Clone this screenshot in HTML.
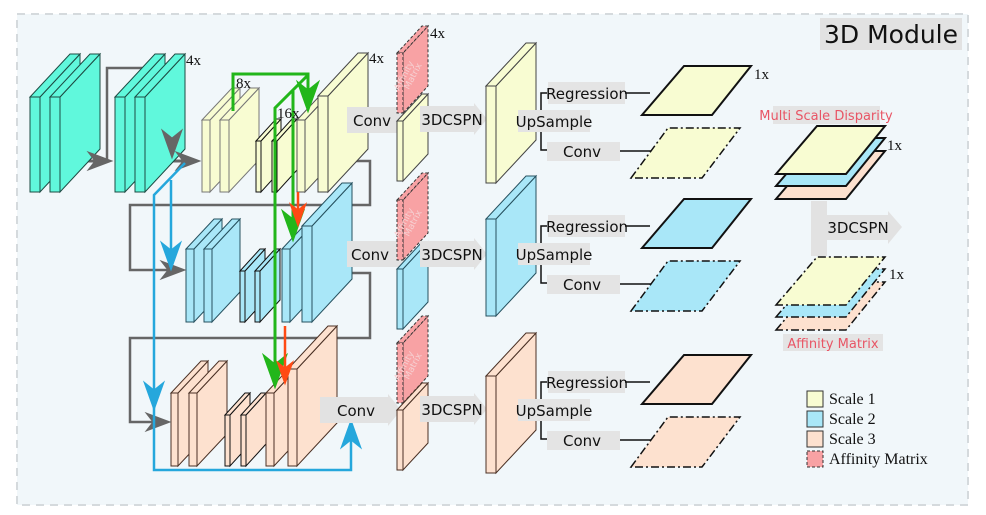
<!DOCTYPE html>
<html><head><meta charset="utf-8"><style>
html,body{margin:0;padding:0;background:#fff;width:986px;height:515px;overflow:hidden}
svg{display:block}
.s{font-family:"DejaVu Sans","Liberation Sans",sans-serif}
.r{font-family:"Liberation Serif",serif}
</style></head><body>
<svg id="sv" width="986" height="515" viewBox="0 0 986 515" xmlns="http://www.w3.org/2000/svg">
<rect x="17" y="14" width="951" height="491" fill="#f1f7fa" stroke="#d5dadd" stroke-width="2" stroke-dasharray="8,6"/>
<rect x="820" y="18" width="142" height="32" fill="#e2e2e2"/>
<text x="891" y="43" class="s" font-size="25" text-anchor="middle" fill="#111">3D Module</text>
<g id="g"></g>
</svg>
<script>
var g=document.getElementById('g'),out='';
function P(pts,f,s,w,d){out+='<polygon points="'+pts.map(p=>p.join(',')).join(' ')+'" fill="'+f+'" stroke="'+s+'" stroke-width="'+(w||1)+'"'+(d?' stroke-dasharray="'+d+'"':'')+' stroke-linejoin="miter"/>';}
function L(pts,c,w,d){out+='<polyline points="'+pts.map(p=>p.join(',')).join(' ')+'" fill="none" stroke="'+c+'" stroke-width="'+(w||2)+'"'+(d?' stroke-dasharray="'+d+'"':'')+'/>';}
function T(x,y,t,sz,cls,anc,col){out+='<text x="'+x+'" y="'+y+'" class="'+cls+'" style="font-size:'+sz+'px" text-anchor="'+(anc||'start')+'" fill="'+(col||'#111')+'">'+t+'</text>';}
function slab(x,y,t,h,dx,fill,st,dash,w){var dy=-Math.round(dx*1.08);
 P([[x+t,y],[x+t+dx,y+dy],[x+t+dx,y+h+dy],[x+t,y+h]],fill,st,w||1,dash);
 P([[x,y],[x+dx,y+dy],[x+t+dx,y+dy],[x+t,y]],fill,st,w||1,dash);
 P([[x,y],[x+t,y],[x+t,y+h],[x,y+h]],fill,st,w||1,dash);}
function ahD(x,ty,c,s){s=s||1;P([[x,ty],[x-10*s,ty-28*s],[x,ty-20*s],[x+10*s,ty-28*s]],c,c,1);}
function ahU(x,ty,c){P([[x,ty],[x-10,ty+28],[x,ty+20],[x+10,ty+28]],c,c,1);}
function ahR(tx,y,c){P([[tx,y],[tx-24,y-9],[tx-17,y],[tx-24,y+9]],c,c,1);}
function barr(x1,x2,y,h,txt,tx){P([[x1,y],[x2,y],[x2,y-3],[x2+13,y+h/2],[x2,y+h+3],[x2,y+h],[x1,y+h]],'#e2e2e2','none',0);
 T(tx||(x1+x2)/2,y+h/2+6,txt,15,'s','middle');}
var GR='#666',GN='#22b61a',RD='#ff4a14',BL='#25a7dc';
var TE='#60f8dc',TS='#1d4b43',Y='#f8fcd2',YS='#444',B='#a9e7f8',BS='#26515f',PC='#fde1cf',PS='#4a3024',PK='#f8a2a4';
L([[80,161],[108,161]],GR,3);L([[107,161],[107,68],[172,68],[172,150]],GR,2.5);
L([[168,161],[195,161]],GR,3);
L([[350,161],[370,161],[370,205],[130,205],[130,270],[180,270]],GR,2.5);
L([[345,273],[370,273],[370,338],[130,338],[130,422],[165,422]],GR,2.5);
slab(30,97,10,95,40,TE,TS);slab(50,97,10,95,40,TE,TS);
slab(115,97,10,95,40,TE,TS);slab(135,97,10,95,40,TE,TS);
ahD(172,158,GR);ahR(112,161,GR);ahR(200,161,GR);
slab(202,120,8,72,30,Y,'#777');slab(220,120,9,72,30,Y,'#777');
slab(256,141,5,51,20,Y,'#111');slab(272,141,5,51,20,Y,'#111');
slab(297,120,8,72,30,Y,'#555');slab(318,96,10,96,40,Y,'#444');
slab(186,249,8,73,28,B,BS);slab(204,249,8,73,28,B,BS);
slab(240,271,5,51,20,B,'#111');slab(255,271,5,51,20,B,'#111');
slab(282,249,8,73,28,B,BS);slab(302,226,10,96,40,B,BS);
slab(171,393,7,73,30,PC,PS);slab(189,393,8,73,30,PC,PS);
slab(225,415,5,51,20,PC,'#111');slab(241,415,5,51,20,PC,'#111');
slab(266,393,8,73,28,PC,PS);slab(288,369,9,97,40,PC,PS);
ahR(185,270,GR);ahR(170,422,GR);
L([[233,111],[233,74],[308,74],[308,100]],GN,3);ahD(308,112,GN,1.1);
L([[308,75],[275,108],[275,375]],GN,3);ahD(275,388,GN,1.2);
L([[293,91],[293,228]],GN,3);ahD(293,241,GN,1.1);
L([[298,192],[298,212]],RD,2.5);ahD(298,226,RD,0.8);
L([[285,326],[285,370]],RD,2.5);ahD(285,384,RD,0.8);
L([[185,163],[154,195],[154,470],[351,470],[351,430]],BL,2.5);ahU(351,420,BL);ahD(154,410,BL);
L([[171,180],[171,258]],BL,2.5);ahD(171,270,BL);
barr(347,398,107,26,'Conv',372);barr(347,398,241,26,'Conv',370);barr(320,388,397,26,'Conv',356);
var rows=[[53,121,Y,YS],[200,269,B,BS],[343,410,PC,PS]];
rows.forEach(function(r,i){slab(397,r[0],6,60,25,PK,'#333','3,2');
 out+='<text transform="translate(414,'+(r[0]+10)+') rotate(-62)" class="s" style="font-size:9px" fill="#f6d0d2" text-anchor="end">Affinity</text>';
 out+='<text transform="translate(422,'+(r[0]+12)+') rotate(-62)" class="s" style="font-size:9px" fill="#f6d0d2" text-anchor="end">Matrix</text>';
 slab(397,r[1],6,60,25,r[2],r[3]);});
T(430,38,'4x',15,'r');T(186,65,'4x',15,'r');T(369,63,'4x',15,'r');T(236,88,'8x',15,'r');T(277,118,'16x',15,'r');
[106,241,396].forEach(function(y){barr(420,474,y,26,'3DCSPN',452);});
var up=[[86,0,Y,YS],[219,133,B,BS],[376,289,PC,PS]];
up.forEach(function(u){var o=u[1];slab(486,u[0],10,97,40,u[2],u[3]);
 L([[547,93+o],[541,93+o],[541,150+o],[547,150+o]],'#111',1.5);
 out+='<rect x="518" y="'+(110+o)+'" width="72" height="22" fill="#e4e4e4"/>';T(554,127+o,'UpSample',15,'s','middle');
 out+='<rect x="548" y="'+(82+o)+'" width="77" height="22" fill="#e4e4e4"/>';T(587,99+o,'Regression',15,'s','middle');
 out+='<rect x="547" y="'+(142+o)+'" width="73" height="19" fill="#e4e4e4"/>';T(582,157+o,'Conv',15,'s','middle');
 L([[625,93+o],[650,93+o]],'#111',1.5);L([[620,151+o],[657,151+o]],'#111',1.5);
 P([[642,115+o],[684,66+o],[751,66+o],[712,115+o]],u[2],'#111',2);
 P([[631,178+o],[668,128+o],[740,128+o],[702,178+o]],u[2],'#111',1.5,'8,3,2,3');});
T(754,79,'1x',15,'r');
out+='<rect x="773" y="106" width="107" height="18" fill="#e4e4e4"/>';T(826,120,'Multi Scale Disparity',13,'s','middle','#e85565');
function pl(x,y,f,d){P([[x,y],[x+41,y-48],[x+109,y-48],[x+70,y]],f,'#111',d?1.5:2,d?'8,3,2,3':null);}
pl(776,199,PC);pl(776,186,B);pl(776,174,Y);T(887,150,'1x',15,'r');
P([[811,201],[827,201],[827,215],[888,215],[888,211],[902,227],[888,244],[888,240],[827,240],[827,256],[811,256]],'#e2e2e2','none',0);
T(858,233,'3DCSPN',15,'s','middle');
pl(776,330,PC,1);pl(776,317,B,1);pl(776,305,Y,1);T(889,279,'1x',15,'r');
out+='<rect x="783" y="334" width="100" height="17" fill="#e4e4e4"/>';T(833,348,'Affinity Matrix',13,'s','middle','#e85565');
[[Y,'Scale 1'],[B,'Scale 2'],[PC,'Scale 3'],[PK,'Affinity Matrix']].forEach(function(l,i){var y=391+i*20;
 out+='<rect x="807" y="'+y+'" width="16" height="16" fill="'+l[0]+'" stroke="#333" stroke-width="1"'+(i==3?' stroke-dasharray="3,2"':'')+'/>';
 T(829,y+13,l[1],16,'r');});
g.innerHTML=out;
</script>
</body></html>
